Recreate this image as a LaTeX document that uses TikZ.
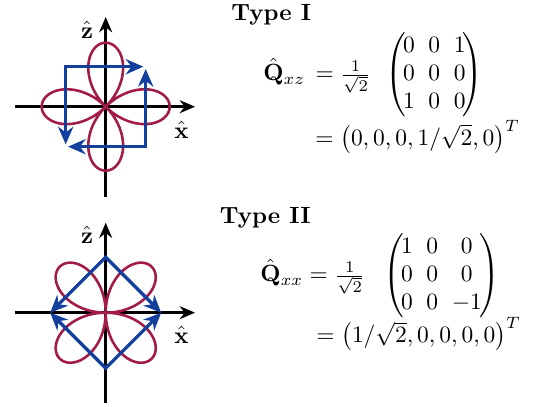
\documentclass[tikz,border=0pt]{standalone}
\usepackage{amsmath,amssymb}
\usepackage{xcolor}
\usepackage{tikz}
\usetikzlibrary{arrows.meta}

\definecolor{lobered}{RGB}{162,28,74}
\definecolor{pathblue}{RGB}{18,64,156}

\newcommand{\tightmat}[1]{\left(\mkern-2mu\begin{matrix}#1\end{matrix}\mkern-2mu\right)}

\tikzset{
    axis/.style={->, line width=1.2pt},
    lobe/.style={lobered, line width=1.1pt},
    hop/.style={{Stealth[length=7.5pt,width=6.5pt]}-{Stealth[length=7.5pt,width=6.5pt]}, pathblue, line width=1.4pt},
    lbl/.style={inner sep=0pt},
}

\begin{document}
\begin{tikzpicture}[x=0.426pt, y=-0.426pt, >={Stealth[length=6.5pt,width=5.5pt]}]
    \useasboundingbox (0,0) rectangle (542,407);
    \setlength{\arraycolsep}{2.9pt}

    % Type I: lobes on the axes
    \coordinate (oA) at (105.7,106.7);
    \coordinate (axLA) at (15,106.7);
    \coordinate (axRA) at (195,106.7);
    \coordinate (axBA) at (105.7,197);
    \coordinate (axTA) at (105.7,17);
    \draw[axis] (axLA) -- (axRA);
    \draw[axis] (axBA) -- (axTA);
    \node[lbl] (zA) at (87,30) {$\hat{\mathbf{z}}$};
    \node[lbl] (xA) at (181.5,130) {$\hat{\mathbf{x}}$};
    % r = R cos(2 phi)
    \draw[lobe, shift={(oA)}] plot[domain=0:360, samples=241] ({64*cos(2*\x)*cos(\x)}, {64*cos(2*\x)*sin(\x)});
    \coordinate (tlA) at (65.7,66.7);
    \coordinate (trA) at (145.7,66.7);
    \coordinate (brA) at (145.7,146.7);
    \coordinate (blA) at (65.7,146.7);
    \draw[hop, shorten <=1pt, shorten >=1pt] (trA) -- (tlA) -- (blA);
    \draw[hop, shorten <=1pt, shorten >=1pt] (trA) -- (brA) -- (blA);

    \node[lbl, anchor=base west] (typeI) at (231,20.7) {\textbf{Type I}};
    \node[lbl, anchor=west] (qxz) at (263,75) {$\hat{\mathbf{Q}}_{xz}\, = \tfrac{1}{\sqrt{2}}\;\, \tightmat{0 & 0 & 1\\ 0 & 0 & 0\\ 1 & 0 & 0}$};
    \node[lbl, anchor=base west] (vxz) at (315,145.5) {$= \bigl(0,0,0,1/\sqrt{2},0\bigr)^T$};

    % Type II: lobes between the axes
    \coordinate (oB) at (105.7,312.7);
    \coordinate (axLB) at (15,312.7);
    \coordinate (axRB) at (195,312.7);
    \coordinate (axBB) at (105.7,402.7);
    \coordinate (axTB) at (105.7,222.7);
    \draw[axis] (axLB) -- (axRB);
    \draw[axis] (axBB) -- (axTB);
    \node[lbl] (zB) at (87,235) {$\hat{\mathbf{z}}$};
    \node[lbl] (xB) at (181.5,335) {$\hat{\mathbf{x}}$};
    % r = R sin(2 phi)
    \draw[lobe, shift={(oB)}] plot[domain=0:360, samples=241] ({65*sin(2*\x)*cos(\x)}, {65*sin(2*\x)*sin(\x)});
    \coordinate (tB) at (105.7,257.2);
    \coordinate (rB) at (161.2,312.7);
    \coordinate (bB) at (105.7,368.2);
    \coordinate (lB) at (50.2,312.7);
    \draw[hop] (lB) -- (tB) -- (rB);
    \draw[hop] (lB) -- (bB) -- (rB);

    \node[lbl, anchor=base west] (typeII) at (219.5,224) {\textbf{Type II}};
    \node[lbl, anchor=west] (qxx) at (260,276) {$\hat{\mathbf{Q}}_{xx} = \tfrac{1}{\sqrt{2}}\;\,\, \tightmat{1 & 0 & 0\\ 0 & 0 & 0\\ 0 & 0 & -1}$};
    \node[lbl, anchor=base west] (vxx) at (316,343) {$= \bigl(1/\sqrt{2},0,0,0,0\bigr)^T$};
\end{tikzpicture}
\end{document}
